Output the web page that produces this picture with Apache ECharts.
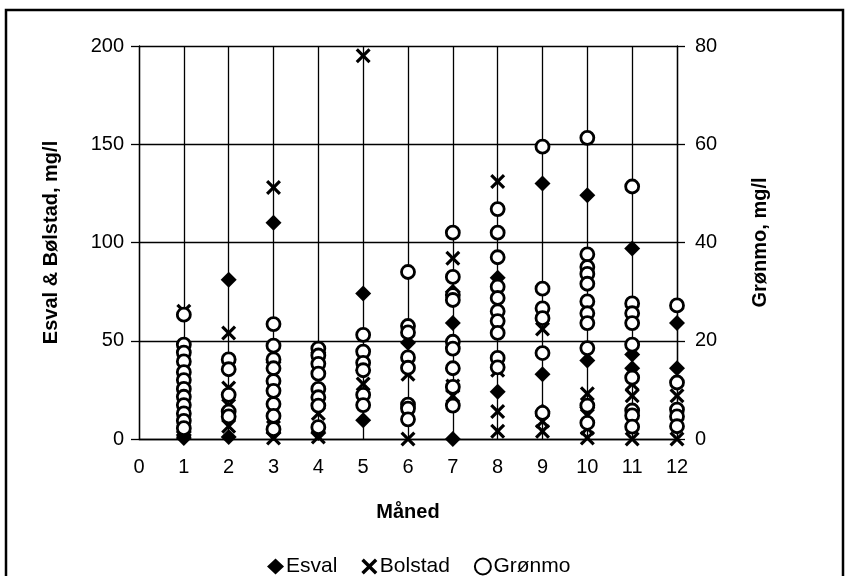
<!DOCTYPE html>
<html>
<head>
<meta charset="utf-8">
<script src="https://cdn.jsdelivr.net/npm/echarts@6/dist/echarts.min.js"></script>
<style>
  html, body { margin: 0; padding: 0; background: #fff; }
  #chart { width: 848px; height: 576px; }
</style>
</head>
<body>
<div id="chart"></div>
<script>
// Months on the x axis
const months = [1, 2, 3, 4, 5, 6, 7, 8, 9, 10, 11, 12];
const xTicks = [0, 1, 2, 3, 4, 5, 6, 7, 8, 9, 10, 11, 12];

// Esval, mg/l (left axis) – samples per month
const esval = [
  [0.5, 2, 3.5],
  [81, 1],
  [110, 39, 3],
  [44, 3],
  [74, 35, 9.5],
  [49],
  [75, 59, 0],
  [82, 24],
  [130, 33, 14],
  [124, 40, 16],
  [97, 43, 36],
  [59, 36]
];

// Bolstad, mg/l (left axis)
const bolstad = [
  [65, 4],
  [54, 26, 17, 6.5],
  [128, 6, 0.5],
  [13, 1],
  [195, 28],
  [33, 0],
  [92, 27, 22],
  [131, 35, 14, 4],
  [56, 9, 4],
  [23, 12, 5.5, 0.5],
  [28, 22, 0],
  [22, 0]
];

// Grønmo, mg/l (right axis)
const gronmo = [
  [25.3, 19.2, 17.6, 15.8, 13.6, 12.0, 10.2, 8.6, 6.9, 5.2, 3.7, 2.2],
  [16.2, 14.2, 9.0, 5.6, 4.6],
  [23.4, 19.0, 16.2, 14.4, 11.8, 9.8, 7.1, 4.7, 2.0],
  [18.4, 17.0, 15.3, 13.3, 10.2, 8.5, 6.8, 2.4],
  [21.2, 17.8, 15.5, 14.0, 9.0, 6.9],
  [34.0, 23.0, 21.7, 16.6, 14.5, 7.0, 6.2, 4.0],
  [42.0, 33.0, 29.3, 28.3, 19.8, 18.4, 14.4, 10.6, 6.8],
  [46.8, 42.0, 37.0, 31.0, 28.7, 26.0, 24.0, 21.6, 16.5, 14.6],
  [59.5, 30.6, 26.6, 24.6, 17.5, 5.3],
  [61.3, 37.6, 35.0, 33.6, 31.6, 28.0, 25.6, 23.6, 18.5, 6.8, 3.3],
  [51.4, 27.6, 25.6, 23.6, 19.2, 12.5, 5.8, 4.8, 2.5],
  [27.2, 11.5, 6.0, 4.6, 2.6]
];

const leftTicks = [0, 50, 100, 150, 200];
const rightTicks = [0, 20, 40, 60, 80];

// pair every sample with its month
function toPoints(perMonth) {
  const out = [];
  perMonth.forEach((vals, i) => vals.forEach(v => out.push([months[i], v])));
  return out;
}

const FONT = '"Liberation Sans", Arial, Helvetica, sans-serif';
const INK = '#000';
const SIZE = 20;
const crossPath = 'path://M0,1.5L1.5,0L5,3.5L8.5,0L10,1.5L6.5,5L10,8.5L8.5,10L5,6.5L1.5,10L0,8.5L3.5,5Z';

const chart = echarts.init(document.getElementById('chart'), null, { renderer: 'canvas' });

chart.setOption({
  animation: false,
  backgroundColor: '#fff',
  textStyle: { fontFamily: FONT, color: INK },
  grid: { left: 139, right: 171, top: 46, bottom: 137, containLabel: false },
  graphic: [{
    type: 'rect',
    shape: { x: 6, y: 10, width: 837, height: 620 },
    style: { fill: 'none', stroke: INK, lineWidth: 2.5 },
    silent: true
  }],
  legend: {
    left: 262,
    top: 551,
    itemGap: 24,
    itemWidth: 17,
    itemHeight: 16,
    textStyle: { fontFamily: FONT, fontSize: 21, color: INK, padding: [0, 0, 0, -3] },
    data: ['Esval', 'Bolstad', 'Grønmo']
  },
  xAxis: {
    type: 'value',
    min: xTicks[0],
    max: xTicks[xTicks.length - 1],
    interval: 1,
    name: 'Måned',
    nameLocation: 'middle',
    nameGap: 63,
    nameTextStyle: { fontFamily: FONT, fontSize: 20, fontWeight: 'bold', color: INK },
    axisLine: { show: true, lineStyle: { color: INK, width: 1.3 } },
    axisTick: { show: false },
    axisLabel: { fontFamily: FONT, fontSize: SIZE, color: INK, margin: 18 },
    splitLine: { show: true, lineStyle: { color: INK, width: 1.3 } }
  },
  yAxis: [{
    type: 'value',
    position: 'left',
    min: leftTicks[0],
    max: leftTicks[leftTicks.length - 1],
    interval: 50,
    name: 'Esval & Bølstad, mg/l',
    nameLocation: 'middle',
    nameGap: 78,
    nameTextStyle: { fontFamily: FONT, fontSize: 20, fontWeight: 'bold', color: INK },
    axisLine: { show: true, lineStyle: { color: INK, width: 1.3 } },
    axisTick: { show: true, inside: false, length: 8, lineStyle: { color: INK, width: 1.3 } },
    axisLabel: { fontFamily: FONT, fontSize: SIZE, color: INK, margin: 15 },
    splitLine: { show: true, lineStyle: { color: INK, width: 1.3 } }
  }, {
    type: 'value',
    position: 'right',
    min: rightTicks[0],
    max: rightTicks[rightTicks.length - 1],
    interval: 20,
    name: 'Grønmo, mg/l',
    nameLocation: 'middle',
    nameGap: 73,
    nameTextStyle: { fontFamily: FONT, fontSize: 20, fontWeight: 'bold', color: INK },
    axisLine: { show: true, lineStyle: { color: INK, width: 1.3 } },
    axisTick: { show: true, inside: false, length: 8, lineStyle: { color: INK, width: 1.3 } },
    axisLabel: { fontFamily: FONT, fontSize: SIZE, color: INK, margin: 18 },
    splitLine: { show: false }
  }],
  series: [{
    name: 'Esval',
    type: 'scatter',
    yAxisIndex: 0,
    symbol: 'diamond',
    symbolSize: 16,
    itemStyle: { color: INK, opacity: 1 },
    data: toPoints(esval),
    z: 3
  }, {
    name: 'Bolstad',
    type: 'scatter',
    yAxisIndex: 0,
    symbol: crossPath,
    symbolSize: 15,
    itemStyle: { color: INK, opacity: 1 },
    data: toPoints(bolstad),
    z: 4
  }, {
    name: 'Grønmo',
    type: 'scatter',
    yAxisIndex: 1,
    symbol: 'circle',
    symbolSize: 13,
    itemStyle: { color: '#fff', borderColor: INK, borderWidth: 2.8, opacity: 1 },
    data: toPoints(gronmo),
    z: 5
  }]
});
</script>
</body>
</html>
